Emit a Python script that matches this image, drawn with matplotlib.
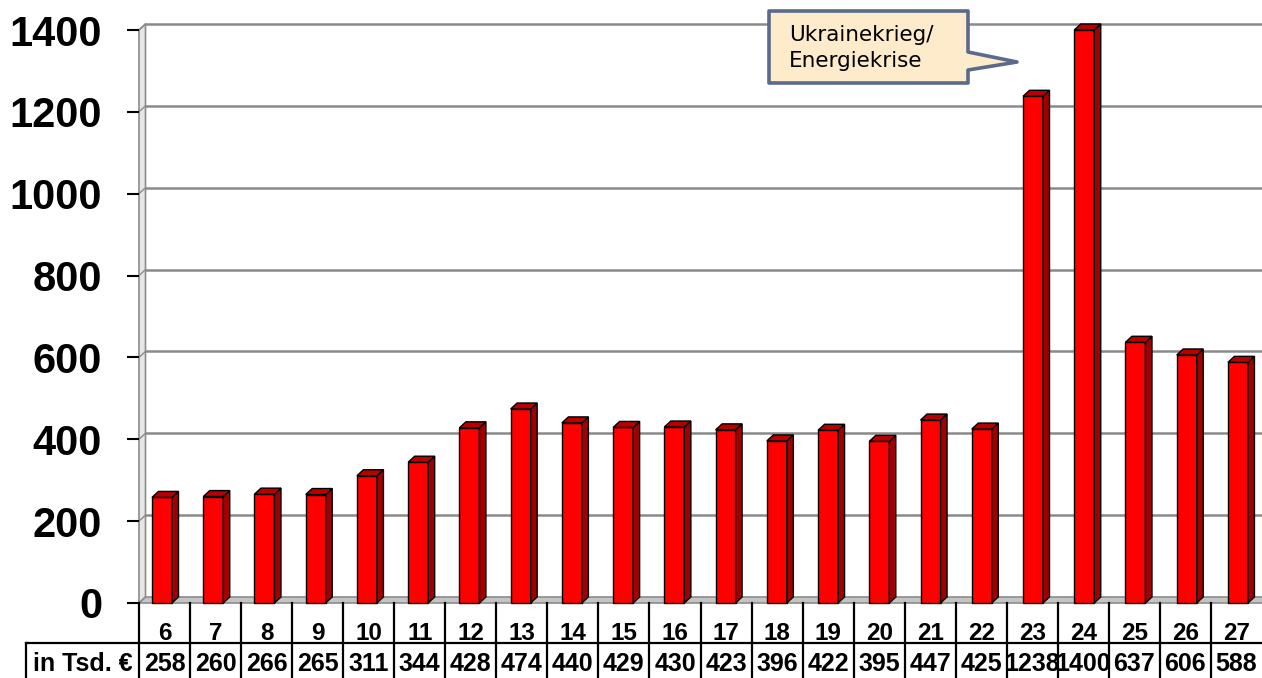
import matplotlib
matplotlib.use("Agg")
import matplotlib.pyplot as plt
from matplotlib.patches import Polygon, Rectangle

categories = ["6", "7", "8", "9", "10", "11", "12", "13", "14", "15", "16",
              "17", "18", "19", "20", "21", "22", "23", "24", "25", "26", "27"]
values = [258, 260, 266, 265, 311, 344, 428, 474, 440, 429, 430,
          423, 396, 422, 395, 447, 425, 1238, 1400, 637, 606, 588]
row_label = "in Tsd. €"
yticks = [0, 200, 400, 600, 800, 1000, 1200, 1400]
callout_text = "Ukrainekrieg/\nEnergiekrise"

W, H = 1262, 678
fig = plt.figure(figsize=(W / 100, H / 100), dpi=100)
fig.patch.set_facecolor("white")

ax_left, ax_right, ax_top, ax_bot = 139, 1262, 30, 603
ax = fig.add_axes([ax_left / W, (H - ax_bot) / H, (ax_right - ax_left) / W, (ax_bot - ax_top) / H])
n = len(categories)
ax.set_xlim(0, n)
ax.set_ylim(0, 1400)
for s in ax.spines.values():
    s.set_visible(False)
ax.set_facecolor("none")

px_x = (ax_right - ax_left) / n          # pixels per x unit
px_y = (ax_bot - ax_top) / 1400.0        # pixels per y unit
dx = 6.5 / px_x
dy = 6.0 / px_y

# left wall
ax.add_patch(Polygon([(0, 0), (dx, dy), (dx, 1400 + dy), (0, 1400)], closed=True,
                     facecolor="#E6E6E6", edgecolor="#8C8C8C", lw=1.2, clip_on=False, zorder=1))
# floor
ax.add_patch(Polygon([(0, 0), (dx, dy), (n + dx, dy), (n, 0)], closed=True,
                     facecolor="#C4C4C4", edgecolor="#8C8C8C", lw=1.2, clip_on=False, zorder=1))
# gridlines on back wall
for t in yticks[1:]:
    ax.plot([dx, n], [t + dy, t + dy], color="#8A8A8A", lw=1.8, clip_on=False, zorder=1.5)
    ax.plot([0, dx], [t, t + dy], color="#8A8A8A", lw=1.0, clip_on=False, zorder=1.5)

# bars
w = 20 / px_x
for i, v in enumerate(values):
    off = (13 + 4 * i / (n - 1)) / px_x
    x0 = i + off
    ax.add_patch(Rectangle((x0, 0), w, v, facecolor="#FF0000", edgecolor="black",
                           lw=1.0, clip_on=False, zorder=3))
    ax.add_patch(Polygon([(x0 + w, 0), (x0 + w + dx, dy), (x0 + w + dx, v + dy), (x0 + w, v)],
                         closed=True, facecolor="#A00000", edgecolor="black", lw=1.0,
                         clip_on=False, zorder=3))
    ax.add_patch(Polygon([(x0, v), (x0 + w, v), (x0 + w + dx, v + dy), (x0 + dx, v + dy)],
                         closed=True, facecolor="#B80000", edgecolor="black", lw=1.0,
                         clip_on=False, zorder=3))

ax.set_xticks([])
ax.set_yticks(yticks)
ax.set_yticklabels([str(t) for t in yticks], fontsize=30, fontweight="bold",
                   family="Liberation Sans")
ax.tick_params(axis="y", length=8.5, width=1.5, pad=18, color="black")

# data table
tr = ax.get_xaxis_transform()
def yf(py):
    return (ax_bot - py) / (ax_bot - ax_top)

for i in range(n):
    ax.plot([i, i], [yf(603), yf(679)], color="black", lw=1.6, transform=tr, clip_on=False)
row_y = 643
ax.plot([(26 - ax_left) / px_x, n], [yf(row_y), yf(row_y)], color="black", lw=1.6,
        transform=tr, clip_on=False)
ax.plot([(26 - ax_left) / px_x] * 2, [yf(row_y), yf(679)], color="black", lw=1.6,
        transform=tr, clip_on=False)

for i, (c, v) in enumerate(zip(categories, values)):
    ax.text(i + 0.5, yf(633), c, transform=tr, ha="center", va="center",
            fontsize=17.5, fontweight="bold", family="Liberation Sans")
    ax.text(i + 0.5, yf(664), str(v), transform=tr, ha="center", va="center",
            fontsize=18, fontweight="bold", family="Liberation Sans")
ax.text(((26 + 139) / 2 - ax_left) / px_x, yf(664), row_label, transform=tr,
        ha="center", va="center", fontsize=18, fontweight="bold", family="Liberation Sans")

# callout
def fp(x, y):
    return (x / W, 1 - y / H)

pts = [fp(769, 11), fp(968, 11), fp(968, 52), fp(1017, 62), fp(968, 70), fp(968, 83), fp(769, 83)]
fig.patches.append(Polygon(pts, closed=True, transform=fig.transFigure, facecolor="#FDEBCB",
                           edgecolor="#5B6A8A", lw=2.6, joinstyle="round", zorder=10))
fig.text(789 / W, 1 - 48 / H, callout_text, ha="left", va="center", fontsize=15.5,
         family="DejaVu Sans", linespacing=1.4, zorder=11)

fig.savefig("out.png", dpi=100, facecolor="white")
